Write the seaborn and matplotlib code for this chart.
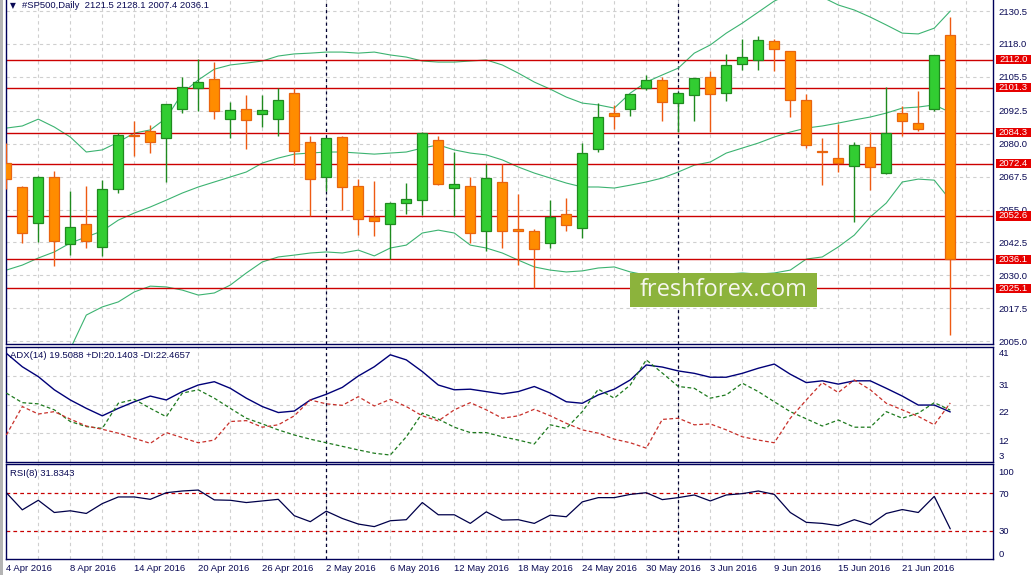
import numpy as np
import pandas as pd
import matplotlib
matplotlib.use("Agg")
import matplotlib.pyplot as plt
import matplotlib.transforms as mtransforms
from matplotlib.patches import Rectangle
import seaborn as sns

# Daily #SP500 candles, 4 Apr 2016 .. 24 Jun 2016 (one row per trading day)
opens = [2072.6, 2063.5, 2049.8, 2067.3, 2041.8, 2049.4, 2040.7, 2062.7, 2083.1, 2084.8,
         2082.1, 2093.1, 2101.1, 2104.5, 2089.3, 2093.1, 2091.2, 2089.3, 2099.2, 2080.6,
         2067.3, 2082.5, 2063.9, 2052.2, 2049.4, 2057.4, 2058.5, 2081.3, 2063.1, 2063.9,
         2046.7, 2065.4, 2047.5, 2046.7, 2042.2, 2053.2, 2047.9, 2077.9, 2091.6, 2093.1,
         2101.1, 2104.2, 2095.4, 2098.4, 2105.3, 2099.2, 2110.2, 2111.8, 2119.0, 2115.2,
         2096.5, 2077.2, 2074.5, 2071.5, 2078.7, 2068.8, 2091.6, 2087.8, 2093.1, 2121.5]
highs = [2080.3, 2064.0, 2067.9, 2069.7, 2062.1, 2064.0, 2066.1, 2084.2, 2088.7, 2087.0,
         2095.0, 2105.4, 2112.1, 2111.0, 2095.8, 2098.4, 2098.4, 2101.1, 2101.1, 2082.9,
         2082.1, 2082.9, 2066.5, 2065.9, 2057.8, 2065.1, 2084.4, 2082.9, 2076.8, 2067.3,
         2072.2, 2072.2, 2060.8, 2047.5, 2058.5, 2059.3, 2080.2, 2095.4, 2094.6, 2099.0,
         2106.1, 2105.3, 2099.6, 2105.1, 2107.6, 2114.0, 2119.7, 2120.9, 2119.7, 2115.4,
         2098.8, 2082.1, 2087.4, 2080.6, 2084.4, 2101.5, 2094.3, 2100.0, 2113.9, 2128.1]
lows = [2062.8, 2042.4, 2042.8, 2033.7, 2037.7, 2040.3, 2037.5, 2061.4, 2075.5, 2076.6,
        2065.6, 2091.8, 2092.6, 2089.3, 2082.1, 2077.9, 2086.5, 2083.1, 2071.8, 2052.4,
        2061.9, 2054.7, 2045.4, 2045.1, 2036.3, 2053.4, 2053.1, 2064.2, 2052.4, 2042.4,
        2039.1, 2040.3, 2033.8, 2025.1, 2040.3, 2046.7, 2044.3, 2076.8, 2085.5, 2090.5,
        2100.6, 2088.6, 2084.4, 2088.6, 2084.4, 2096.2, 2108.0, 2108.0, 2107.6, 2090.1,
        2078.3, 2064.2, 2069.2, 2050.2, 2062.3, 2068.6, 2082.9, 2084.8, 2092.4, 2007.4]
closes = [2066.5, 2046.0, 2067.3, 2042.9, 2048.3, 2042.9, 2062.7, 2083.2, 2082.9, 2080.6,
          2095.0, 2101.5, 2103.4, 2092.4, 2092.7, 2088.9, 2092.7, 2096.5, 2077.2, 2066.5,
          2082.1, 2063.5, 2051.3, 2050.5, 2057.4, 2058.9, 2084.0, 2064.6, 2064.6, 2046.0,
          2066.9, 2046.7, 2046.7, 2039.9, 2052.1, 2049.0, 2076.4, 2090.1, 2090.5, 2098.8,
          2104.2, 2095.8, 2099.2, 2104.9, 2098.8, 2109.9, 2112.9, 2119.4, 2115.9, 2096.5,
          2079.4, 2076.8, 2072.6, 2079.4, 2071.1, 2084.0, 2088.6, 2085.5, 2113.7, 2036.1]

# Bollinger bands
bb_upper = [2086.0, 2086.8, 2089.4, 2086.4, 2082.6, 2076.9, 2077.7, 2080.7, 2084.1, 2085.3,
            2089.8, 2099.3, 2104.3, 2108.4, 2110.0, 2110.7, 2111.5, 2113.4, 2114.2, 2114.5,
            2114.9, 2114.9, 2114.5, 2114.9, 2113.8, 2113.0, 2111.5, 2111.1, 2111.1, 2111.5,
            2111.9, 2110.0, 2106.9, 2103.5, 2100.8, 2097.8, 2095.5, 2094.8, 2093.6, 2099.3,
            2103.5, 2106.2, 2108.8, 2114.5, 2117.6, 2122.1, 2125.9, 2130.1, 2134.3, 2137.0,
            2137.3, 2135.8, 2132.8, 2130.9, 2128.2, 2125.2, 2122.1, 2121.8, 2124.0, 2130.5]
bb_middle = [2032.0, 2033.9, 2036.6, 2038.9, 2042.3, 2044.6, 2046.9, 2051.0, 2053.7, 2056.0,
             2058.6, 2061.3, 2063.6, 2065.5, 2067.4, 2069.3, 2072.7, 2074.6, 2076.1, 2076.5,
             2076.9, 2076.9, 2076.5, 2076.1, 2076.5, 2076.9, 2078.4, 2079.6, 2077.7, 2076.5,
             2075.8, 2073.9, 2071.2, 2068.9, 2067.0, 2065.1, 2063.6, 2063.6, 2063.2, 2064.3,
             2065.5, 2067.0, 2069.3, 2071.9, 2073.1, 2076.5, 2078.4, 2080.3, 2082.6, 2084.5,
             2086.0, 2086.8, 2087.9, 2089.1, 2090.2, 2091.7, 2093.6, 2094.0, 2094.8, 2092.0]
bb_lower = [1978.0, 1981.0, 1984.0, 1991.0, 2002.0, 2014.9, 2018.0, 2019.9, 2023.7, 2025.9,
            2025.6, 2024.4, 2022.5, 2023.3, 2026.3, 2030.9, 2035.1, 2037.0, 2037.7, 2038.5,
            2038.9, 2038.5, 2039.6, 2037.4, 2040.4, 2041.5, 2046.1, 2047.2, 2046.1, 2041.5,
            2040.4, 2038.5, 2035.8, 2033.2, 2032.0, 2031.3, 2031.7, 2032.8, 2033.2, 2031.3,
            2030.1, 2029.7, 2029.7, 2029.4, 2029.0, 2030.5, 2030.9, 2030.5, 2030.9, 2032.0,
            2036.2, 2037.0, 2040.8, 2045.3, 2052.2, 2057.5, 2065.5, 2066.6, 2066.2, 2058.6]

# ADX(14) panel
adx = [39.1, 34.6, 31.3, 26.9, 23.5, 20.7, 18.2, 20.7, 22.9, 24.8,
       23.5, 26.3, 28.5, 29.6, 27.4, 24.1, 21.3, 19.3, 19.8, 23.5,
       25.4, 27.7, 31.5, 34.6, 38.6, 36.9, 33.0, 28.5, 26.9, 27.1,
       26.3, 25.5, 26.3, 28.0, 25.8, 22.9, 22.4, 25.2, 27.1, 30.2,
       35.2, 34.5, 33.2, 32.4, 31.1, 31.1, 32.4, 34.1, 35.5, 32.1,
       29.3, 29.9, 28.8, 29.9, 29.9, 27.4, 24.8, 21.8, 21.8, 19.5]
plus_di = [25.8, 22.6, 22.2, 20.2, 16.3, 14.6, 14.0, 22.4, 23.7, 20.7,
           17.9, 25.8, 26.9, 24.1, 20.7, 17.4, 15.5, 13.5, 11.8, 10.4,
           9.2, 8.0, 6.8, 5.7, 5.1, 11.2, 19.1, 17.1, 14.4, 12.6,
           12.6, 11.2, 10.1, 8.8, 15.2, 14.0, 19.6, 27.1, 24.1, 28.5,
           36.9, 32.5, 28.0, 27.4, 24.1, 25.2, 29.1, 26.3, 22.9, 19.6,
           17.2, 14.8, 16.8, 14.4, 14.4, 19.6, 17.4, 19.1, 22.6, 20.1]
minus_di = [11.8, 21.3, 18.8, 19.6, 17.1, 14.8, 13.7, 12.4, 10.7, 9.0,
            12.6, 10.9, 9.2, 10.1, 16.3, 16.6, 14.4, 15.2, 18.2, 23.5,
            22.2, 21.7, 24.6, 21.5, 23.7, 21.3, 18.2, 16.5, 20.2, 22.6,
            20.2, 17.4, 18.2, 20.4, 18.2, 15.7, 13.5, 12.4, 10.4, 9.2,
            7.4, 17.0, 17.4, 15.2, 15.5, 13.5, 11.2, 10.1, 9.2, 17.4,
            23.5, 29.3, 26.0, 30.2, 26.9, 22.4, 20.2, 18.0, 15.2, 22.5]

# RSI(8) panel
rsi = [70.0, 51.9, 62.0, 49.1, 50.9, 48.1, 58.5, 65.5, 65.5, 63.0,
       70.0, 71.8, 72.8, 62.4, 62.0, 59.6, 61.3, 63.0, 45.7, 39.4,
       50.5, 42.8, 36.9, 34.2, 40.4, 41.5, 59.6, 46.7, 46.7, 37.6,
       49.8, 41.1, 41.5, 37.6, 46.3, 44.6, 60.3, 64.8, 64.8, 68.2,
       70.0, 62.7, 64.8, 67.6, 61.3, 67.6, 69.0, 71.8, 68.2, 49.1,
       38.7, 37.6, 35.2, 41.5, 36.3, 48.1, 52.2, 49.1, 66.1, 31.8]

# horizontal levels drawn on the price chart
levels = [2112.0, 2101.3, 2084.3, 2072.4, 2052.6, 2036.1, 2025.1]

price_ticks = [2130.5, 2118.0, 2105.5, 2092.5, 2080.0, 2067.5, 2055.0, 2042.5, 2030.0, 2017.5, 2005.0]
# ADX grid values and where MT4 prints their labels (labels sit a little off the grid)
adx_grid = [31.4, 21.9, 12.4]
adx_label_pos = [39.2, 28.8, 19.5, 9.8, 5.1]
adx_tick_labels = ["41", "31", "22", "12", "3"]
rsi_levels = [70, 30]
rsi_label_pos = [92.6, 69.5, 30, 6.3]
rsi_tick_labels = ["100", "70", "30", "0"]
date_labels = ["4 Apr 2016", "8 Apr 2016", "14 Apr 2016", "20 Apr 2016", "26 Apr 2016",
               "2 May 2016", "6 May 2016", "12 May 2016", "18 May 2016", "24 May 2016",
               "30 May 2016", "3 Jun 2016", "9 Jun 2016", "15 Jun 2016", "21 Jun 2016"]
month_starts = [20, 42]  # bars of 2 May and 1 Jun

df = pd.DataFrame({"bar": np.arange(len(opens)), "open": opens, "high": highs, "low": lows,
                   "close": closes, "bb_up": bb_upper, "bb_mid": bb_middle, "bb_low": bb_lower,
                   "adx": adx, "pdi": plus_di, "mdi": minus_di, "rsi": rsi})

sns.set_style("white")
plt.rcParams["font.family"] = ["Liberation Sans", "DejaVu Sans"]

W, H = 1035, 575
def px_box(x0, y0, x1, y1):
    return [x0 / W, 1 - y1 / H, (x1 - x0) / W, (y1 - y0) / H]

fig = plt.figure(figsize=(W / 100, H / 100), dpi=100)
ax = fig.add_axes(px_box(5.5, 0, 993, 344))
ax_adx = fig.add_axes(px_box(5.5, 347, 993, 462))
ax_rsi = fig.add_axes(px_box(5.5, 464, 993, 559))

navy = "#0A0A55"
fs = 6.8
grid_kw = dict(color="#CFCFCF", lw=0.8, ls=(0, (3, 3)), zorder=0)

for a in (ax, ax_adx, ax_rsi):
    a.set_xlim(-0.05, 61.67)
    for x in range(0, 62, 2):
        a.axvline(x, **grid_kw)
    for x in month_starts:
        a.axvline(x, color="#000030", lw=0.9, ls=(0, (2.5, 2.5)), zorder=1)
    for s in a.spines.values():
        s.set_color("#00005A")
        s.set_linewidth(1.0)
    a.yaxis.tick_right()
    a.tick_params(axis="y", length=0, pad=4, labelsize=fs, labelcolor=navy)
ax.spines["top"].set_visible(False)

# ---- price panel
ax.set_ylim(2003.9, 2134.7)
ax.set_yticks(price_ticks, labels=[f"{p:.1f}" for p in price_ticks])
ax.set_xticks([])
for p in price_ticks:
    ax.axhline(p, **grid_kw)

for col in ["bb_up", "bb_mid", "bb_low"]:
    sns.lineplot(data=df, x="bar", y=col, ax=ax, color="#3CB371", lw=0.8, zorder=2)

for lv in levels:
    ax.axhline(lv, color="#CC0000", lw=1.0, zorder=2.5)

up = df["close"] >= df["open"]
wick_col = np.where(up, "#1F8A1F", "#EE5A12")
fill_col = np.where(up, "#32CD32", "#FF8C00")
edge_col = np.where(up, "#1F8A1F", "#E8650F")
body_lo = np.minimum(df["open"], df["close"])
body_h = np.maximum((df["close"] - df["open"]).abs(), 0.3)
ax.vlines(df["bar"], df["low"], df["high"], colors=wick_col, lw=1.0, zorder=3)
ax.bar(df["bar"], body_h, bottom=body_lo, width=0.62, color=fill_col,
       edgecolor=edge_col, linewidth=0.9, zorder=4)

trans = mtransforms.blended_transform_factory(ax.transAxes, ax.transData)
for lv in levels:
    ax.add_patch(Rectangle((1.0027, lv - 1.75), 0.0358, 3.5, transform=trans,
                           fc="#E60000", ec="none", clip_on=False, zorder=6))
    ax.text(1.0205, lv, f"{lv:.1f}", transform=trans, ha="center", va="center",
            fontsize=fs, color="white", clip_on=False, zorder=7)

# ---- ADX panel
sns.lineplot(data=df, x="bar", y="adx", ax=ax_adx, color="#000078", lw=1.0, zorder=3)
sns.lineplot(data=df, x="bar", y="pdi", ax=ax_adx, color="#1E7A1E", lw=0.9,
             linestyle=(0, (3, 2)), zorder=3)
sns.lineplot(data=df, x="bar", y="mdi", ax=ax_adx, color="#C8302A", lw=0.9,
             linestyle=(0, (3, 2)), zorder=3)
ax_adx.set_ylim(2.77, 41.2)
ax_adx.set_yticks(adx_label_pos, labels=adx_tick_labels)
ax_adx.set_xticks([])
for t in adx_grid:
    ax_adx.axhline(t, **grid_kw)

# ---- RSI panel
sns.lineplot(data=df, x="bar", y="rsi", ax=ax_rsi, color="#00004A", lw=0.9, zorder=3)
for lv in rsi_levels:
    ax_rsi.axhline(lv, color="#C80000", lw=0.9, ls=(0, (3, 2.5)), zorder=2)
ax_rsi.set_ylim(0, 100.3)
ax_rsi.set_yticks(rsi_label_pos, labels=rsi_tick_labels)
ax_rsi.set_xticks(np.arange(0, 4 * len(date_labels), 4), labels=date_labels)
ax_rsi.tick_params(axis="x", length=2.2, width=0.8, color="#00005A", pad=1.5,
                   labelsize=fs, labelcolor=navy)
for lab in ax_rsi.get_xticklabels():
    lab.set_ha("left")

for a in (ax, ax_adx, ax_rsi):
    a.set_xlabel("")
    a.set_ylabel("")

# ---- captions
def fig_text(x, y, s, size=fs, **kw):
    fig.text(x / W, 1 - y / H, s, va="center", ha="left", color=navy, fontsize=size, **kw)

fig_text(9.5, 5.5, "\u25bc", size=5.5, family="DejaVu Sans")
fig_text(21.5, 5.7, "#SP500,Daily  2121.5 2128.1 2007.4 2036.1")
fig_text(10.5, 355.7, "ADX(14) 19.5088 +DI:20.1403 -DI:22.4657")
fig_text(10.5, 474, "RSI(8) 31.8343")

# window frame strip on the left
fig.add_artist(Rectangle((0, 0), 2.5 / W, 1, transform=fig.transFigure,
                         fc="#B4B4B4", ec="none", zorder=9))

# watermark
fig.add_artist(Rectangle((630 / W, 1 - 306.7 / H), 186.7 / W, 33.4 / H,
                         transform=fig.transFigure, fc="#8CB33C", ec="none", zorder=10))
fig.text(723.3 / W, 1 - 290 / H, "freshforex.com", ha="center", va="center",
         fontsize=17, family=["Open Sans", "DejaVu Sans"], color="#F6F6EE", zorder=11)

fig.savefig("out.png", dpi=100)
